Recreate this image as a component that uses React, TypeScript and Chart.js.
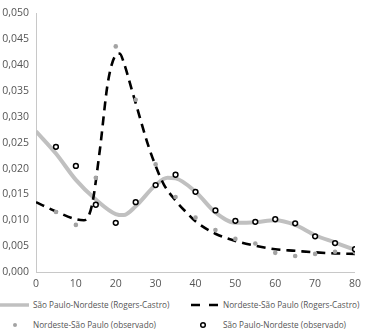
import React, { useEffect, useRef } from "react";
import { Chart, registerables } from "chart.js";

Chart.register(...registerables);

// Observed ages (5-year groups)
const observedAges = [5, 10, 15, 20, 25, 30, 35, 40, 45, 50, 55, 60, 65, 70, 75, 80];
const spNeObserved = [0.0242, 0.0205, 0.013, 0.0095, 0.0135, 0.0168, 0.0188, 0.0155, 0.0119, 0.0099, 0.0097, 0.0102, 0.0094, 0.0069, 0.0056, 0.0044];
const neSpObserved = [0.0116, 0.0091, 0.0182, 0.0436, 0.0333, 0.0208, 0.0145, 0.0105, 0.0081, 0.0064, 0.0055, 0.0037, 0.0031, 0.0035, 0.0039, 0.0038];

// Rogers-Castro fitted curves
const spNeModelAges = [0, 5, 10, 15, 20, 22, 25, 30, 33, 35, 40, 45, 50, 55, 60, 65, 70, 75, 80];
const spNeModel = [0.0272, 0.0229, 0.0178, 0.014, 0.0112, 0.011, 0.0127, 0.0168, 0.0182, 0.0181, 0.0155, 0.0115, 0.0095, 0.0096, 0.01, 0.0091, 0.0071, 0.0057, 0.0043];
const neSpModelAges = [0, 5, 10, 12, 14, 16, 18, 20, 21, 22, 24, 26, 28, 30, 32, 35, 38, 40, 45, 50, 55, 60, 65, 70, 75, 80];
const neSpModel = [0.0135, 0.0117, 0.0102, 0.01, 0.0128, 0.0235, 0.0365, 0.0419, 0.0422, 0.0405, 0.0353, 0.03, 0.0248, 0.0205, 0.017, 0.0138, 0.0113, 0.0098, 0.0074, 0.006, 0.0051, 0.0044, 0.0041, 0.0038, 0.0036, 0.0035];

const xMin = 0;
const xMax = 80;
const xStep = 10;
const yMin = 0;
const yMax = 0.05;
const yStep = 0.005;

const labelSpNeModel = "São Paulo-Nordeste (Rogers-Castro)";
const labelNeSpModel = "Nordeste-São Paulo (Rogers-Castro)";
const labelNeSpObs = "Nordeste-São Paulo (observado)";
const labelSpNeObs = "São Paulo-Nordeste (observado)";

const FONT = "'Open Sans', 'Noto Sans', sans-serif";
const TEXT = "#555555";
const GRAY_LINE = "#c0c0c0";
const GRAY_DOT = "#a3a3a3";

const pts = (xs: number[], ys: number[]) => xs.map((x, i) => ({ x, y: ys[i] }));

function LegendItem({ left, top, icon, text }: { left: number; top: number; icon: React.ReactNode; text: string }) {
  return (
    <div style={{ position: "absolute", left, top, height: 12, display: "flex", alignItems: "center", whiteSpace: "nowrap" }}>
      <div style={{ width: 33, height: 12, display: "flex", alignItems: "center" }}>{icon}</div>
      <span style={{ fontFamily: FONT, fontSize: 8.2, color: TEXT, lineHeight: "12px" }}>{text}</span>
    </div>
  );
}

export default function App() {
  const ref = useRef<HTMLCanvasElement | null>(null);

  useEffect(() => {
    if (!ref.current) return;
    const chart = new Chart(ref.current, {
      type: "line",
      data: {
        datasets: [
          {
            label: labelSpNeObs,
            data: pts(observedAges, spNeObserved),
            showLine: false,
            pointRadius: 2.4,
            pointBorderWidth: 1.5,
            pointBorderColor: "#000000",
            pointBackgroundColor: "#ffffff",
          },
          {
            label: labelNeSpObs,
            data: pts(observedAges, neSpObserved),
            showLine: false,
            pointRadius: 2.3,
            pointBorderWidth: 0,
            pointBorderColor: GRAY_DOT,
            pointBackgroundColor: GRAY_DOT,
          },
          {
            label: labelNeSpModel,
            data: pts(neSpModelAges, neSpModel),
            borderColor: "#000000",
            borderWidth: 2.6,
            borderDash: [9, 6],
            pointRadius: 0,
            cubicInterpolationMode: "monotone",
            fill: false,
          },
          {
            label: labelSpNeModel,
            data: pts(spNeModelAges, spNeModel),
            borderColor: GRAY_LINE,
            borderWidth: 4,
            pointRadius: 0,
            cubicInterpolationMode: "monotone",
            fill: false,
          },
        ],
      },
      options: {
        responsive: false,
        animation: false,
        layout: { padding: { top: 5, right: 8, left: 0, bottom: 0 } },
        plugins: { legend: { display: false }, tooltip: { enabled: false } },
        scales: {
          x: {
            type: "linear",
            min: xMin,
            max: xMax,
            afterFit: (s: any) => {
              s.height = 20;
            },
            ticks: {
              stepSize: xStep,
              padding: 6,
              color: TEXT,
              font: { family: FONT, size: 10.5 },
            },
            grid: { display: false, drawTicks: false },
            border: { color: "#c8c8c8", width: 1 },
          },
          y: {
            type: "linear",
            min: yMin,
            max: yMax,
            afterFit: (s: any) => {
              s.width = 36;
            },
            ticks: {
              stepSize: yStep,
              padding: 7,
              color: TEXT,
              font: { family: FONT, size: 10.5 },
              callback: (v: any) => Number(v).toFixed(3).replace(".", ","),
            },
            grid: { display: false, drawTicks: false },
            border: { color: "#c8c8c8", width: 1 },
          },
        },
      },
    });
    return () => chart.destroy();
  }, []);

  return (
    <div style={{ position: "absolute", left: 0, top: 0, width: 367, height: 336, background: "#ffffff" }}>
      <canvas ref={ref} width={367} height={292} style={{ display: "block" }} />
      <LegendItem
        left={0}
        top={299}
        text={labelSpNeModel}
        icon={
          <svg width={30} height={8}>
            <line x1={0} y1={4} x2={29} y2={4} stroke={GRAY_LINE} strokeWidth={3.5} />
          </svg>
        }
      />
      <LegendItem
        left={190}
        top={299}
        text={labelNeSpModel}
        icon={
          <svg width={30} height={8}>
            <line x1={1} y1={4} x2={30} y2={4} stroke="#000000" strokeWidth={2.6} strokeDasharray="9 9" />
          </svg>
        }
      />
      <LegendItem
        left={0}
        top={319}
        text={labelNeSpObs}
        icon={
          <svg width={30} height={8}>
            <circle cx={15} cy={4} r={2} fill={GRAY_DOT} />
          </svg>
        }
      />
      <LegendItem
        left={190}
        top={319}
        text={labelSpNeObs}
        icon={
          <svg width={30} height={8}>
            <circle cx={13} cy={4} r={2.3} fill="#ffffff" stroke="#000000" strokeWidth={1.5} />
          </svg>
        }
      />
    </div>
  );
}
